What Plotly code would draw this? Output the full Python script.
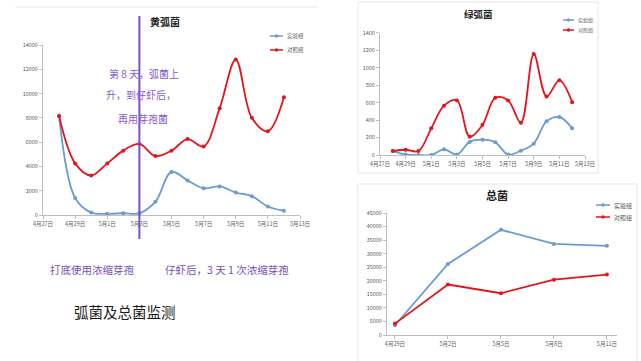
import plotly.graph_objects as go

# ---------------- data ----------------
dates_v = ["2024-04-28", "2024-04-29", "2024-04-30", "2024-05-01", "2024-05-02",
           "2024-05-03", "2024-05-04", "2024-05-05", "2024-05-06", "2024-05-07",
           "2024-05-08", "2024-05-09", "2024-05-10", "2024-05-11", "2024-05-12"]
yellow_exp = [8150, 1400, 200, 100, 150, 150, 1100, 3550, 2850, 2200, 2350, 1850, 1550, 700, 350]
yellow_ctl = [8150, 4250, 3250, 4250, 5300, 5850, 4850, 5300, 6250, 5650, 8800, 12800, 8000, 6900, 9700]
green_exp = [45, 5, 0, 0, 65, 5, 150, 175, 145, 5, 50, 130, 385, 435, 305]
green_ctl = [45, 60, 45, 305, 565, 625, 210, 345, 655, 625, 370, 1155, 670, 855, 605]
total_cats = ["4月29日", "5月2日", "5月5日", "5月8日", "5月11日"]
total_exp = [3600, 26200, 38800, 33600, 32900]
total_ctl = [4200, 18600, 15400, 20400, 22300]
series_names = ["实验组", "对照组"]
note_day = "2024-05-03"

BLUE = "#6A9BD1"
RED = "#E5141B"
PURPLE = "#7B52C4"
TXT = "#595959"
FONT = "Noto Sans CJK SC"

W, H = 641, 361
def fx(px): return px / W
def fy(py): return 1 - py / H

fig = go.Figure()

def add_pair(xs, a, b, xa, ya, shape):
    for vals, name, col in ((a, series_names[0], BLUE), (b, series_names[1], RED)):
        fig.add_trace(go.Scatter(
            x=xs, y=vals, name=name, mode="lines+markers", showlegend=False,
            line=dict(color=col, width=1.8, shape=shape, smoothing=1.0),
            marker=dict(color=col, size=4),
            xaxis=xa, yaxis=ya))

add_pair(dates_v, yellow_exp, yellow_ctl, "x", "y", "spline")
add_pair(dates_v, green_exp, green_ctl, "x2", "y2", "spline")
add_pair(total_cats, total_exp, total_ctl, "x3", "y3", "linear")

axcommon = dict(showgrid=False, zeroline=False, showline=True, linecolor="#BFBFBF",
                linewidth=1, ticks="outside", ticklen=3, tickcolor="#BFBFBF",
                tickfont=dict(size=5.5, color=TXT, family=FONT))

date_ax = dict(type="date", range=["2024-04-27", "2024-05-13"], tick0="2024-04-27",
               dtick=2 * 86400000, tickformat="%-m月%-d日")

fig.update_layout(
    width=W, height=H, autosize=False,
    margin=dict(l=0, r=0, t=0, b=0, autoexpand=False),
    paper_bgcolor="white", plot_bgcolor="white",
    font=dict(family=FONT),
    showlegend=False,
    xaxis=dict(domain=[fx(43), fx(300)], anchor="y", **date_ax, **axcommon),
    yaxis=dict(domain=[fy(215), fy(45)], anchor="x", range=[0, 14000], dtick=2000,
               tickformat="d", **axcommon),
    xaxis2=dict(domain=[fx(380), fx(585)], anchor="y2", **date_ax, **axcommon),
    yaxis2=dict(domain=[fy(155), fy(32.7)], anchor="x2", range=[0, 1400], dtick=200,
                tickformat="d", **axcommon),
    xaxis3=dict(domain=[fx(387), fx(617)], anchor="y3", type="category",
                range=[-0.15, 4.19], **axcommon),
    yaxis3=dict(domain=[fy(335), fy(213)], anchor="x3", range=[0, 45000], dtick=5000,
                tickformat="d", **axcommon),
)

shapes = [
    dict(type="line", xref="paper", yref="paper", x0=fx(15), x1=fx(318), y0=fy(7), y1=fy(7),
         line=dict(color="#EDEDED", width=1)),
    dict(type="rect", xref="paper", yref="paper", x0=fx(358), x1=fx(598), y0=fy(173), y1=fy(2),
         line=dict(color="#E6E6E6", width=1)),
    dict(type="rect", xref="paper", yref="paper", x0=fx(358), x1=fx(637), y0=fy(362), y1=fy(184),
         line=dict(color="#E6E6E6", width=1)),
    dict(type="line", xref="x", yref="paper", x0=note_day, x1=note_day, y0=fy(239), y1=fy(16),
         line=dict(color=PURPLE, width=2)),
]

def ann(text, px, py, size, color, bold=False, xanchor="center"):
    fig.add_annotation(text=("<b>%s</b>" % text) if bold else text, xref="paper", yref="paper",
                       x=fx(px), y=fy(py), showarrow=False, xanchor=xanchor, yanchor="middle",
                       font=dict(size=size, color=color, family=FONT))

def legend(x0, x1, ys, size):
    for (name, col), yy in zip(((series_names[0], BLUE), (series_names[1], RED)), ys):
        shapes.append(dict(type="line", xref="paper", yref="paper", x0=fx(x0), x1=fx(x1),
                           y0=fy(yy), y1=fy(yy), line=dict(color=col, width=1.5)))
        cx = (x0 + x1) / 2
        shapes.append(dict(type="circle", xref="paper", yref="paper",
                           x0=fx(cx - 1.7), x1=fx(cx + 1.7), y0=fy(yy + 1.7), y1=fy(yy - 1.7),
                           fillcolor=col, line=dict(color=col, width=0)))
        ann(name, x1 + 2, yy, size, TXT, xanchor="left")

legend(270, 283, (36, 50), 5.5)
legend(563, 574, (20, 30), 5)
legend(596, 610, (205, 217), 6)

fig.update_layout(shapes=shapes)

ann("黄弧菌", 165, 21, 10, "#222222", bold=True)
ann("绿弧菌", 478, 14, 9.5, "#222222", bold=True)
ann("总菌", 497, 195, 11, "#222222", bold=True)
ann("第 8 天，弧菌上", 144, 73, 10, "#8A5CC8")
ann("升，到仔虾后，", 141, 95, 10, "#8A5CC8")
ann("再用芽孢菌", 143, 118, 10, "#8A5CC8")
ann("打底使用浓缩芽孢", 48, 269, 10.5, "#7A4FB8", xanchor="left")
ann("仔虾后，3 天 1 次浓缩芽孢", 163, 269, 10.5, "#7A4FB8", xanchor="left")
ann("弧菌及总菌监测", 72, 311, 14.5, "#1A1A1A", xanchor="left")

fig.write_html("out.html", config={"displayModeBar": False},
               post_script="document.body.style.margin='0';")
